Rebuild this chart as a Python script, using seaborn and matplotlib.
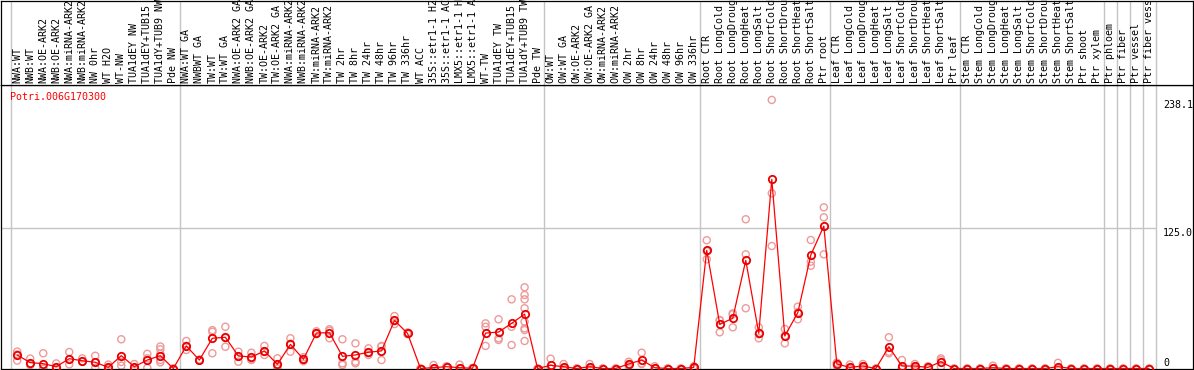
import numpy as np
import pandas as pd
import matplotlib
matplotlib.use("Agg")
import matplotlib.pyplot as plt
import matplotlib.transforms as mtransforms
import seaborn as sns

# ---------------- data ----------------
gene_id = "Potri.006G170300"

categories = [
    "NWA:WT", "NWB:WT", "NWA:OE-ARK2", "NWB:OE-ARK2", "NWA:miRNA-ARK2", "NWB:miRNA-ARK2",
    "NW 0hr", "WT H2O", "WT-NW", "TUA1dEY NW", "TUA1dEY+TUB15 NW", "TUA1dY+TUB9 NW", "Pde NW",
    "NWA:WT GA", "NWBWT GA", "TW:WT", "TW:WT GA", "NWA:OE-ARK2 GA", "NWB:OE-ARK2 GA",
    "TW:OE-ARK2", "TW:OE-ARK2 GA", "NWA:miRNA-ARK2 GA", "NWB:miRNA-ARK2 GA", "TW:miRNA-ARK2",
    "TW:miRNA-ARK2 GA", "TW 2hr", "TW 8hr", "TW 24hr", "TW 48hr", "TW 96hr", "TW 336hr",
    "WT ACC", "35S::etr1-1 H2O", "35S::etr1-1 ACC", "LMX5::etr1-1 H2O", "LMX5::etr1-1 ACC",
    "WT-TW", "TUA1dEY TW", "TUA1dEY+TUB15 TW", "TUA1dY+TUB9 TW", "Pde TW",
    "OW:WT", "OW:WT GA", "OW:OE-ARK2", "OW:OE-ARK2 GA", "OW:miRNA-ARK2", "OW:miRNA-ARK2 GA",
    "OW 2hr", "OW 8hr", "OW 24hr", "OW 48hr", "OW 96hr", "OW 336hr",
    "Root CTR", "Root LongCold", "Root LongDrought", "Root LongHeat", "Root LongSalt",
    "Root ShortCold", "Root ShortDrought", "Root ShortHeat", "Root ShortSalt", "Ptr root",
    "Leaf CTR", "Leaf LongCold", "Leaf LongDrought", "Leaf LongHeat", "Leaf LongSalt",
    "Leaf ShortCold", "Leaf ShortDrought", "Leaf ShortHeat", "Leaf ShortSalt", "Ptr leaf",
    "Stem CTR", "Stem LongCold", "Stem LongDrought", "Stem LongHeat", "Stem LongSalt",
    "Stem ShortCold", "Stem ShortDrought", "Stem ShortHeat", "Stem ShortSalt", "Ptr shoot",
    "Ptr xylem", "Ptr phloem", "Ptr fiber", "Ptr vessel", "Ptr fiber vessel",
]

group_sizes = [13, 28, 12, 10, 10, 11, 1, 1, 1, 1]

mean_expr = [
    12.0, 5.2, 4.3, 1.6, 8.7, 6.9, 5.5, 1.0, 11.4, 1.6, 7.5, 11.4, 0.0,
    20.0, 7.5, 26.8, 27.7, 11.1, 10.2, 15.5, 3.7, 21.4, 8.2, 31.5, 31.7, 10.8, 12.0,
    14.4, 15.6, 42.6, 31.2, 0.0, 0.8, 1.6, 0.7, 0.2, 31.4, 32.3, 40.0, 48.2, 0.0,
    2.8, 1.6, 0.0, 1.6, 0.0, 0.0, 4.0, 7.5, 0.7, 0.0, 0.0, 1.0,
    104.8, 39.2, 44.5, 95.9, 31.2, 167.7, 28.8, 49.5, 100.6, 126.3,
    4.0, 1.0, 2.2, 0.0, 19.3, 2.2, 2.2, 1.0, 6.0, 0.0,
    0.0, 0.0, 0.7, 0.0, 0.0, 0.0, 0.0, 1.6, 0.0, 0.0, 0.0,
    0.0, 0.0, 0.0, 0.0,
]

replicates = [
    [15.0, 12.5, 7.0], [8.8, 3.8, 3.0], [13.5, 0.0, 0.0], [4.5, 0.3, 0.0], [14.6, 8.0, 3.7],
    [9.0, 6.0, 6.0], [11.3, 5.0, 0.5], [3.5, 0.0, 0.0], [25.9, 5.8, 2.5], [4.0, 0.5, 0.3],
    [13.0, 9.0, 0.5], [19.5, 17.0, 13.0, 7.5, 5.5], [0.0, 0.0],
    [24.4, 20.0, 16.4], [8.0, 7.0], [34.0, 32.6, 13.5], [37.0, 27.0, 19.3], [14.9, 10.5, 6.0],
    [14.0, 8.0, 7.5], [20.0, 15.0, 12.0], [9.0, 2.0, 0.0], [26.8, 22.0, 14.9], [10.0, 8.0, 6.5],
    [33.0, 31.5, 30.5], [34.8, 33.5, 26.8], [25.9, 4.6, 3.1], [22.3, 6.0, 4.6], [17.9, 13.5, 12.0],
    [20.0, 19.5, 7.5], [46.5, 42.0, 39.4], [32.0, 31.0, 30.5], [0.0, 0.0], [3.1, 0.0, 0.0],
    [2.0, 1.5, 1.3], [3.5, 0.0, 0.0], [0.5, 0.0, 0.0], [40.0, 37.0, 20.0], [43.6, 26.8, 25.3],
    [61.3, 37.0, 20.8], [72.0, 65.2, 61.3, 53.4, 41.5, 35.6, 34.1, 24.4], [0.0, 0.0],
    [8.7, 0.0, 0.0], [4.0, 0.8, 0.0], [0.0, 0.0], [4.0, 0.8, 0.0], [0.0, 0.0], [0.0, 0.0],
    [6.0, 4.0, 2.0], [14.0, 4.5, 4.0], [2.0, 0.0, 0.0], [0.0, 0.0], [0.0, 0.0], [2.0, 1.0, 0.0],
    [113.7, 104.0, 96.8], [43.0, 42.5, 32.1], [48.9, 48.0, 36.5], [132.3, 101.2, 53.4],
    [36.5, 30.3, 26.8], [238.1, 155.3, 108.6], [35.0, 29.0, 22.3], [54.8, 50.0, 43.6],
    [113.9, 94.7, 91.1], [142.9, 134.0, 101.2],
    [5.2, 4.5, 2.3], [3.5, 0.0, 0.0], [4.0, 2.0, 0.5], [0.0, 0.0], [27.7, 14.9, 13.5],
    [7.5, 0.0, 0.0], [4.0, 2.0, 0.5], [2.0, 1.0, 0.0], [9.0, 7.5, 1.5], [0.0, 0.0],
    [0.0, 0.0], [0.0, 0.0], [2.5, 0.0, 0.0], [0.0, 0.0], [0.0, 0.0], [0.0, 0.0], [0.0, 0.0],
    [5.0, 0.0, 0.0], [0.0, 0.0], [0.0, 0.0], [0.0, 0.0],
    [0.0, 0.0], [0.0, 0.0], [0.0, 0.0], [0.0, 0.0],
]

y_labels = ["238.1", "125.0", "0"]
y_label_values = [238.1, 125.0, 0.0]

# ---------------- tables ----------------
n = len(categories)
df_mean = pd.DataFrame({"pos": np.arange(n), "expr": mean_expr})
rep_rows = [(i, v) for i, reps in enumerate(replicates) for v in reps]
df_rep = pd.DataFrame(rep_rows, columns=["pos", "expr"])

# ---------------- figure ----------------
sns.set_style("white")
plt.rcParams["font.family"] = ["DejaVu Sans Mono", "DejaVu Sans"]
plt.rcParams["font.size"] = 7.2

W, H = 1194, 370
fig = plt.figure(figsize=(W / 100, H / 100), dpi=100)
fig.patch.set_facecolor("white")


def fx(px):
    return px / W


def fy(py):
    return 1 - py / H


left, right = 0.5, 1192.5
ax = fig.add_axes([fx(left), fy(368.5), fx(right) - fx(left), fy(85) - fy(368.5)])
axl = fig.add_axes([fx(left), fy(85), fx(right) - fx(left), fy(0.5) - fy(85)])

step = 13.01
c0 = 17.2
xlim = ((left - c0) / step, (right - c0) / step)
for a in (ax, axl):
    a.set_xlim(*xlim)
    a.set_xticks([])
    a.set_yticks([])
    for s in a.spines.values():
        s.set_color("black")
        s.set_linewidth(0.9)
        s.set_visible(True)
ax.set_ylim(0, (368.5 - 85) / 1.128)
axl.set_ylim(0, 1)

grid_col = "#c4c4c4"
bounds = np.concatenate([[0], np.cumsum(group_sizes)]) - 0.5
for b in bounds:
    ax.axvline(b, color=grid_col, lw=1.0, zorder=0)
    axl.axvline(b, color=grid_col, lw=1.0, zorder=0)
ax.hlines(125.0, xlim[0], bounds[-1], color=grid_col, lw=1.0, zorder=0)

rep_col = "#ee9a9a"
sns.scatterplot(data=df_rep, x="pos", y="expr", ax=ax, color=rep_col, s=26,
                linewidth=1.0, marker="o", zorder=2, clip_on=False, legend=False)
coll = ax.collections[-1]
coll.set_facecolor("none")
coll.set_edgecolor(rep_col)

sns.lineplot(data=df_mean, x="pos", y="expr", ax=ax, color="#ff0000", lw=0.9,
             marker="o", markersize=5.3, markerfacecolor="none",
             markeredgecolor="#e80000", markeredgewidth=1.3, zorder=3,
             clip_on=False, legend=False)
ax.set_xlabel("")
ax.set_ylabel("")
ax.set_xlim(*xlim)

# category labels (rotated)
trans = mtransforms.blended_transform_factory(axl.transData, axl.transAxes)
for i, lab in enumerate(categories):
    axl.text(i, 2.0 / 84.5, lab, rotation=90, ha="center", va="bottom",
             transform=trans, color="black", fontsize=7.2)

# value labels on the right
xl = (1163 - c0) / step
for lab, v in zip(y_labels, y_label_values):
    ax.text(xl, v if v > 0 else 0.8, lab, ha="left",
            va="top" if v > 0 else "bottom", color="black", fontsize=7.2)

fig.text(fx(10), fy(97), gene_id, color="#ff0000", ha="left", va="center", fontsize=7.2)

fig.savefig("out.png", dpi=100, facecolor="white")
